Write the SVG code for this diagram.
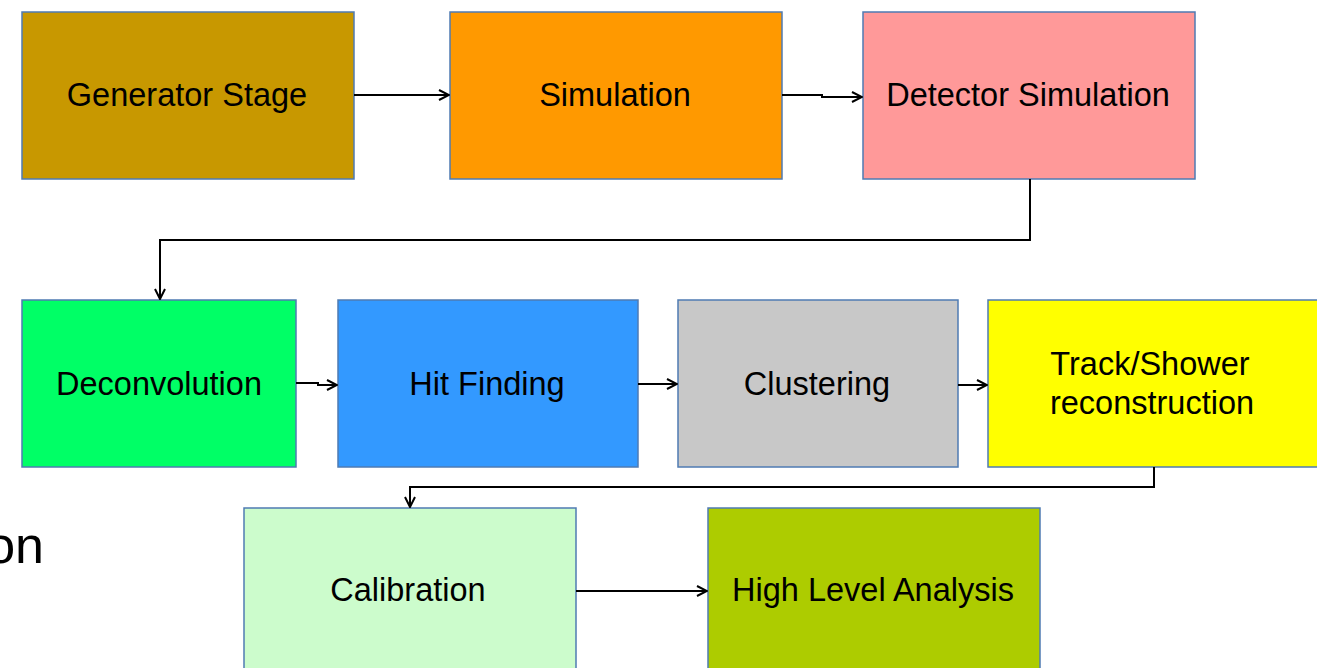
<svg xmlns="http://www.w3.org/2000/svg" width="1317" height="668" viewBox="0 0 1317 668">
<style>
.box{stroke:#4f7bb3;stroke-width:1.5}
.lbl{font-family:"Liberation Sans",Arial,sans-serif;font-size:32.5px;fill:#000;text-anchor:middle}
.con{fill:none;stroke:#000;stroke-width:2}
</style>
<defs>
<marker id="ah" viewBox="0 0 12 12" refX="11" refY="6" markerWidth="12" markerHeight="12" markerUnits="userSpaceOnUse" orient="auto">
<path d="M1,1 L11,6 L1,11" fill="none" stroke="#000" stroke-width="2"/>
</marker>
</defs>
<rect width="1317" height="668" fill="#fff"/>
<g id="n-generator"><rect class="box" x="22" y="12" width="332" height="167" fill="#c89800"/><text class="lbl" x="187" y="106">Generator Stage</text></g>
<g id="n-simulation"><rect class="box" x="450" y="12" width="332" height="167" fill="#ff9900"/><text class="lbl" x="615" y="106">Simulation</text></g>
<g id="n-detector"><rect class="box" x="863" y="12" width="332" height="167" fill="#ff9999"/><text class="lbl" x="1028" y="106">Detector Simulation</text></g>
<g id="n-deconv"><rect class="box" x="22" y="300" width="274" height="167" fill="#00ff66"/><text class="lbl" x="159" y="395">Deconvolution</text></g>
<g id="n-hit"><rect class="box" x="338" y="300" width="300" height="167" fill="#3399ff"/><text class="lbl" x="487" y="395">Hit Finding</text></g>
<g id="n-cluster"><rect class="box" x="678" y="300" width="280" height="167" fill="#c8c8c8"/><text class="lbl" x="817" y="395">Clustering</text></g>
<g id="n-track"><rect class="box" x="988" y="300" width="340" height="167" fill="#ffff00"/><text class="lbl" x="1150" y="375">Track/Shower</text><text class="lbl" x="1152" y="414">reconstruction</text></g>
<g id="n-calib"><rect class="box" x="244" y="508" width="332" height="170" fill="#ccfccc"/><text class="lbl" x="408" y="601">Calibration</text></g>
<g id="n-hla"><rect class="box" x="708" y="508" width="332" height="170" fill="#adcc00"/><text class="lbl" x="873" y="601">High Level Analysis</text></g>
<text x="44" y="563" text-anchor="end" style="font-family:'Liberation Sans',Arial,sans-serif;font-size:52px;fill:#000">on</text>
<g id="connectors">
<path class="con" d="M354,95 H449" marker-end="url(#ah)"/>
<path class="con" d="M782,95 H822 V97 H862" marker-end="url(#ah)"/>
<path class="con" d="M1030,179 V240 H160 V299" marker-end="url(#ah)"/>
<path class="con" d="M296,383 H318 V385 H337" marker-end="url(#ah)"/>
<path class="con" d="M638,384 H677" marker-end="url(#ah)"/>
<path class="con" d="M958,385 H987" marker-end="url(#ah)"/>
<path class="con" d="M1154,467 V487 H410 V507" marker-end="url(#ah)"/>
<path class="con" d="M576,591 H707" marker-end="url(#ah)"/>
</g>
</svg>
